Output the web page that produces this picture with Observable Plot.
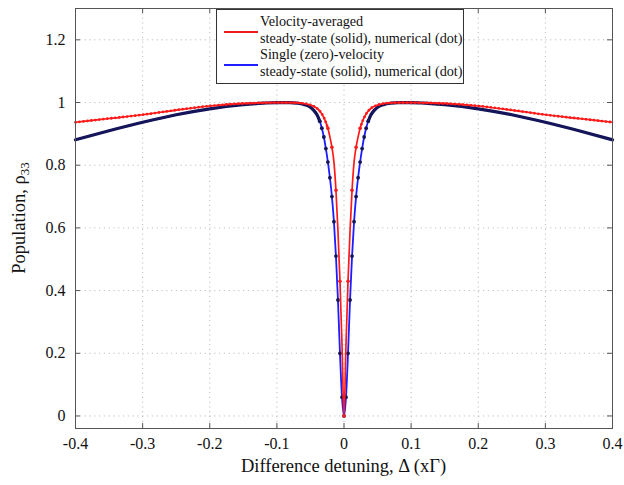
<!DOCTYPE html>
<html>
<head>
<meta charset="utf-8">
<script src="https://cdn.jsdelivr.net/npm/d3@7"></script>
<script src="https://cdn.jsdelivr.net/npm/@observablehq/plot@0.6"></script>
<style>
  html, body { margin: 0; padding: 0; background: #fff; }
  #wrap { position: relative; width: 624px; height: 485px; }
  #legend {
    position: absolute; left: 216px; top: 9px; width: 248px; height: 75px;
    box-sizing: border-box; border: 1px solid #333; background: #fff;
    font-family: "Liberation Serif", serif; font-size: 14.2px; color: #111;
  }
  #legend .sw { position: absolute; left: 7px; width: 34px; height: 2px; }
  #legend .txt { position: absolute; left: 43px; top: 3px; line-height: 16.7px; white-space: nowrap; }
</style>
</head>
<body>
<div id="wrap">
  <div id="chart"></div>
  <div id="legend">
    <div class="sw" style="top:21px;background:#ee1c1c;"></div>
    <div class="sw" style="top:54px;background:#2020ff;"></div>
    <div class="txt">Velocity-averaged<br>steady-state (solid), numerical (dot)<br>Single (zero)-velocity<br>steady-state (solid), numerical (dot)</div>
  </div>
</div>
<script>
// ---- tick values ----
const xTicks = [-0.4, -0.3, -0.2, -0.1, 0, 0.1, 0.2, 0.3, 0.4];
const yTicks = [0, 0.2, 0.4, 0.6, 0.8, 1, 1.2];

// ---- Single (zero)-velocity, steady state (curve is symmetric in detuning; values for Δ >= 0) ----
const blueDelta = [0, 0.003, 0.006, 0.009, 0.012, 0.015, 0.018, 0.021, 0.024, 0.027, 0.03, 0.033, 0.036, 0.04, 0.045, 0.05, 0.06, 0.07, 0.08, 0.1, 0.12, 0.15, 0.2, 0.25, 0.3, 0.35, 0.4];
const blueValue = [0, 0.06, 0.2, 0.37, 0.51, 0.62, 0.70, 0.76, 0.81, 0.853, 0.89, 0.918, 0.94, 0.96, 0.975, 0.985, 0.994, 0.998, 1.0, 1.0, 0.998, 0.993, 0.98, 0.961, 0.937, 0.91, 0.881];
// numerical points (dots) around the dip
const blueNumDelta = [0, 0.003, 0.006, 0.009, 0.012, 0.015, 0.018, 0.021, 0.024, 0.027, 0.03, 0.033, 0.036];
const blueNumValue = [0, 0.06, 0.2, 0.37, 0.51, 0.62, 0.70, 0.76, 0.81, 0.853, 0.89, 0.918, 0.94];

// ---- Velocity-averaged, steady state (values for Δ >= 0) ----
const redDelta = [0, 0.003, 0.006, 0.009, 0.012, 0.015, 0.018, 0.021, 0.024, 0.027, 0.03, 0.035, 0.04, 0.05, 0.06, 0.07, 0.08, 0.1, 0.12, 0.15, 0.2, 0.25, 0.3, 0.35, 0.4];
const redValue = [0, 0.23, 0.43, 0.59, 0.72, 0.81, 0.857, 0.89, 0.918, 0.937, 0.952, 0.97, 0.981, 0.992, 0.997, 0.999, 1.0, 1.0, 0.999, 0.997, 0.989, 0.976, 0.961, 0.949, 0.937];
const redNumDelta = [0, 0.006, 0.012, 0.018, 0.024];
const redNumValue = [0, 0.43, 0.72, 0.857, 0.918];

// ---- layout ----
const W = 624, H = 485, mL = 75, mR = 12, mT = 8, mB = 57;
const iw = W - mL - mR, ih = H - mT - mB;

function mirror(ds, vs) {
  const pts = [];
  for (let i = ds.length - 1; i > 0; i--) pts.push({x: -ds[i], y: vs[i], side: "L"});
  ds.forEach((d, i) => pts.push({x: d, y: vs[i], side: d === 0 ? "C" : "R"}));
  return pts;
}
const blue = mirror(blueDelta, blueValue);
const red = mirror(redDelta, redValue);
const blueNum = mirror(blueNumDelta, blueNumValue);
const redNum = mirror(redNumDelta, redNumValue);

const fmt = d => String(Math.round(d * 10) / 10 || 0);
const grid = {stroke: "#bdbdbd", strokeOpacity: 1, strokeWidth: 1, strokeDasharray: "1.2,3.6"};
const navy = "#15155a", blueC = "#1c1cff", redC = "#ff1a1a";

const chart = Plot.plot({
  width: W, height: H,
  marginLeft: mL, marginRight: mR, marginTop: mT, marginBottom: mB,
  style: {fontFamily: '"Liberation Serif", serif', fontSize: "16px", color: "#111", background: "#fff", overflow: "visible"},
  x: {domain: [-0.4, 0.4]},
  y: {domain: [-0.04, 1.3]},
  marks: [
    Plot.gridX(xTicks, grid),
    Plot.gridY(yTicks, grid),
    Plot.axisX(xTicks, {tickSize: 0, tickPadding: 9, tickFormat: fmt, label: null}),
    Plot.axisY(yTicks, {tickSize: 0, tickPadding: 10, tickFormat: fmt, label: null}),
    Plot.tickX(xTicks, {x: d => d, insetTop: ih - 5, stroke: "#555"}),
    Plot.tickX(xTicks, {x: d => d, insetBottom: ih - 5, stroke: "#555"}),
    Plot.tickY(yTicks, {y: d => d, insetRight: iw - 5, stroke: "#555"}),
    Plot.tickY(yTicks, {y: d => d, insetLeft: iw - 5, stroke: "#555"}),
    // single (zero)-velocity
    Plot.line(blue, {x: "x", y: "y", stroke: blueC, strokeWidth: 1.8, curve: "monotone-x"}),
    Plot.line(blue, {filter: d => Math.abs(d.x) >= 0.036, x: "x", y: "y", z: "side", stroke: navy, strokeWidth: 3.2, curve: "monotone-x"}),
    Plot.dot(blueNum, {x: "x", y: "y", r: 1.9, fill: navy}),
    // velocity-averaged
    Plot.line(red, {x: "x", y: "y", stroke: redC, strokeWidth: 1.7, curve: "monotone-x"}),
    Plot.line(red, {filter: d => Math.abs(d.x) >= 0.024, x: "x", y: "y", z: "side", stroke: redC, strokeWidth: 2.8, strokeDasharray: "0,4", strokeLinecap: "round", curve: "monotone-x"}),
    Plot.dot(redNum, {x: "x", y: "y", r: 1.8, fill: redC}),
    Plot.frame({stroke: "#555"})
  ]
});
document.getElementById("chart").appendChild(chart);

// axis titles
const svg = d3.select(chart);
svg.append("text")
  .attr("x", mL + iw / 2).attr("y", 472)
  .attr("text-anchor", "middle")
  .style("font-family", '"Liberation Serif", serif').style("font-size", "18.5px").attr("fill", "#111")
  .text("Difference detuning, Δ (xΓ)");
const yl = svg.append("text")
  .attr("transform", `translate(25,${mT + ih / 2}) rotate(-90)`)
  .attr("text-anchor", "middle")
  .style("font-family", '"Liberation Serif", serif').style("font-size", "18.5px").attr("fill", "#111");
yl.append("tspan").text("Population, ρ");
yl.append("tspan").attr("dy", "0.3em").style("font-size", "13px").text("33");
</script>
</body>
</html>
